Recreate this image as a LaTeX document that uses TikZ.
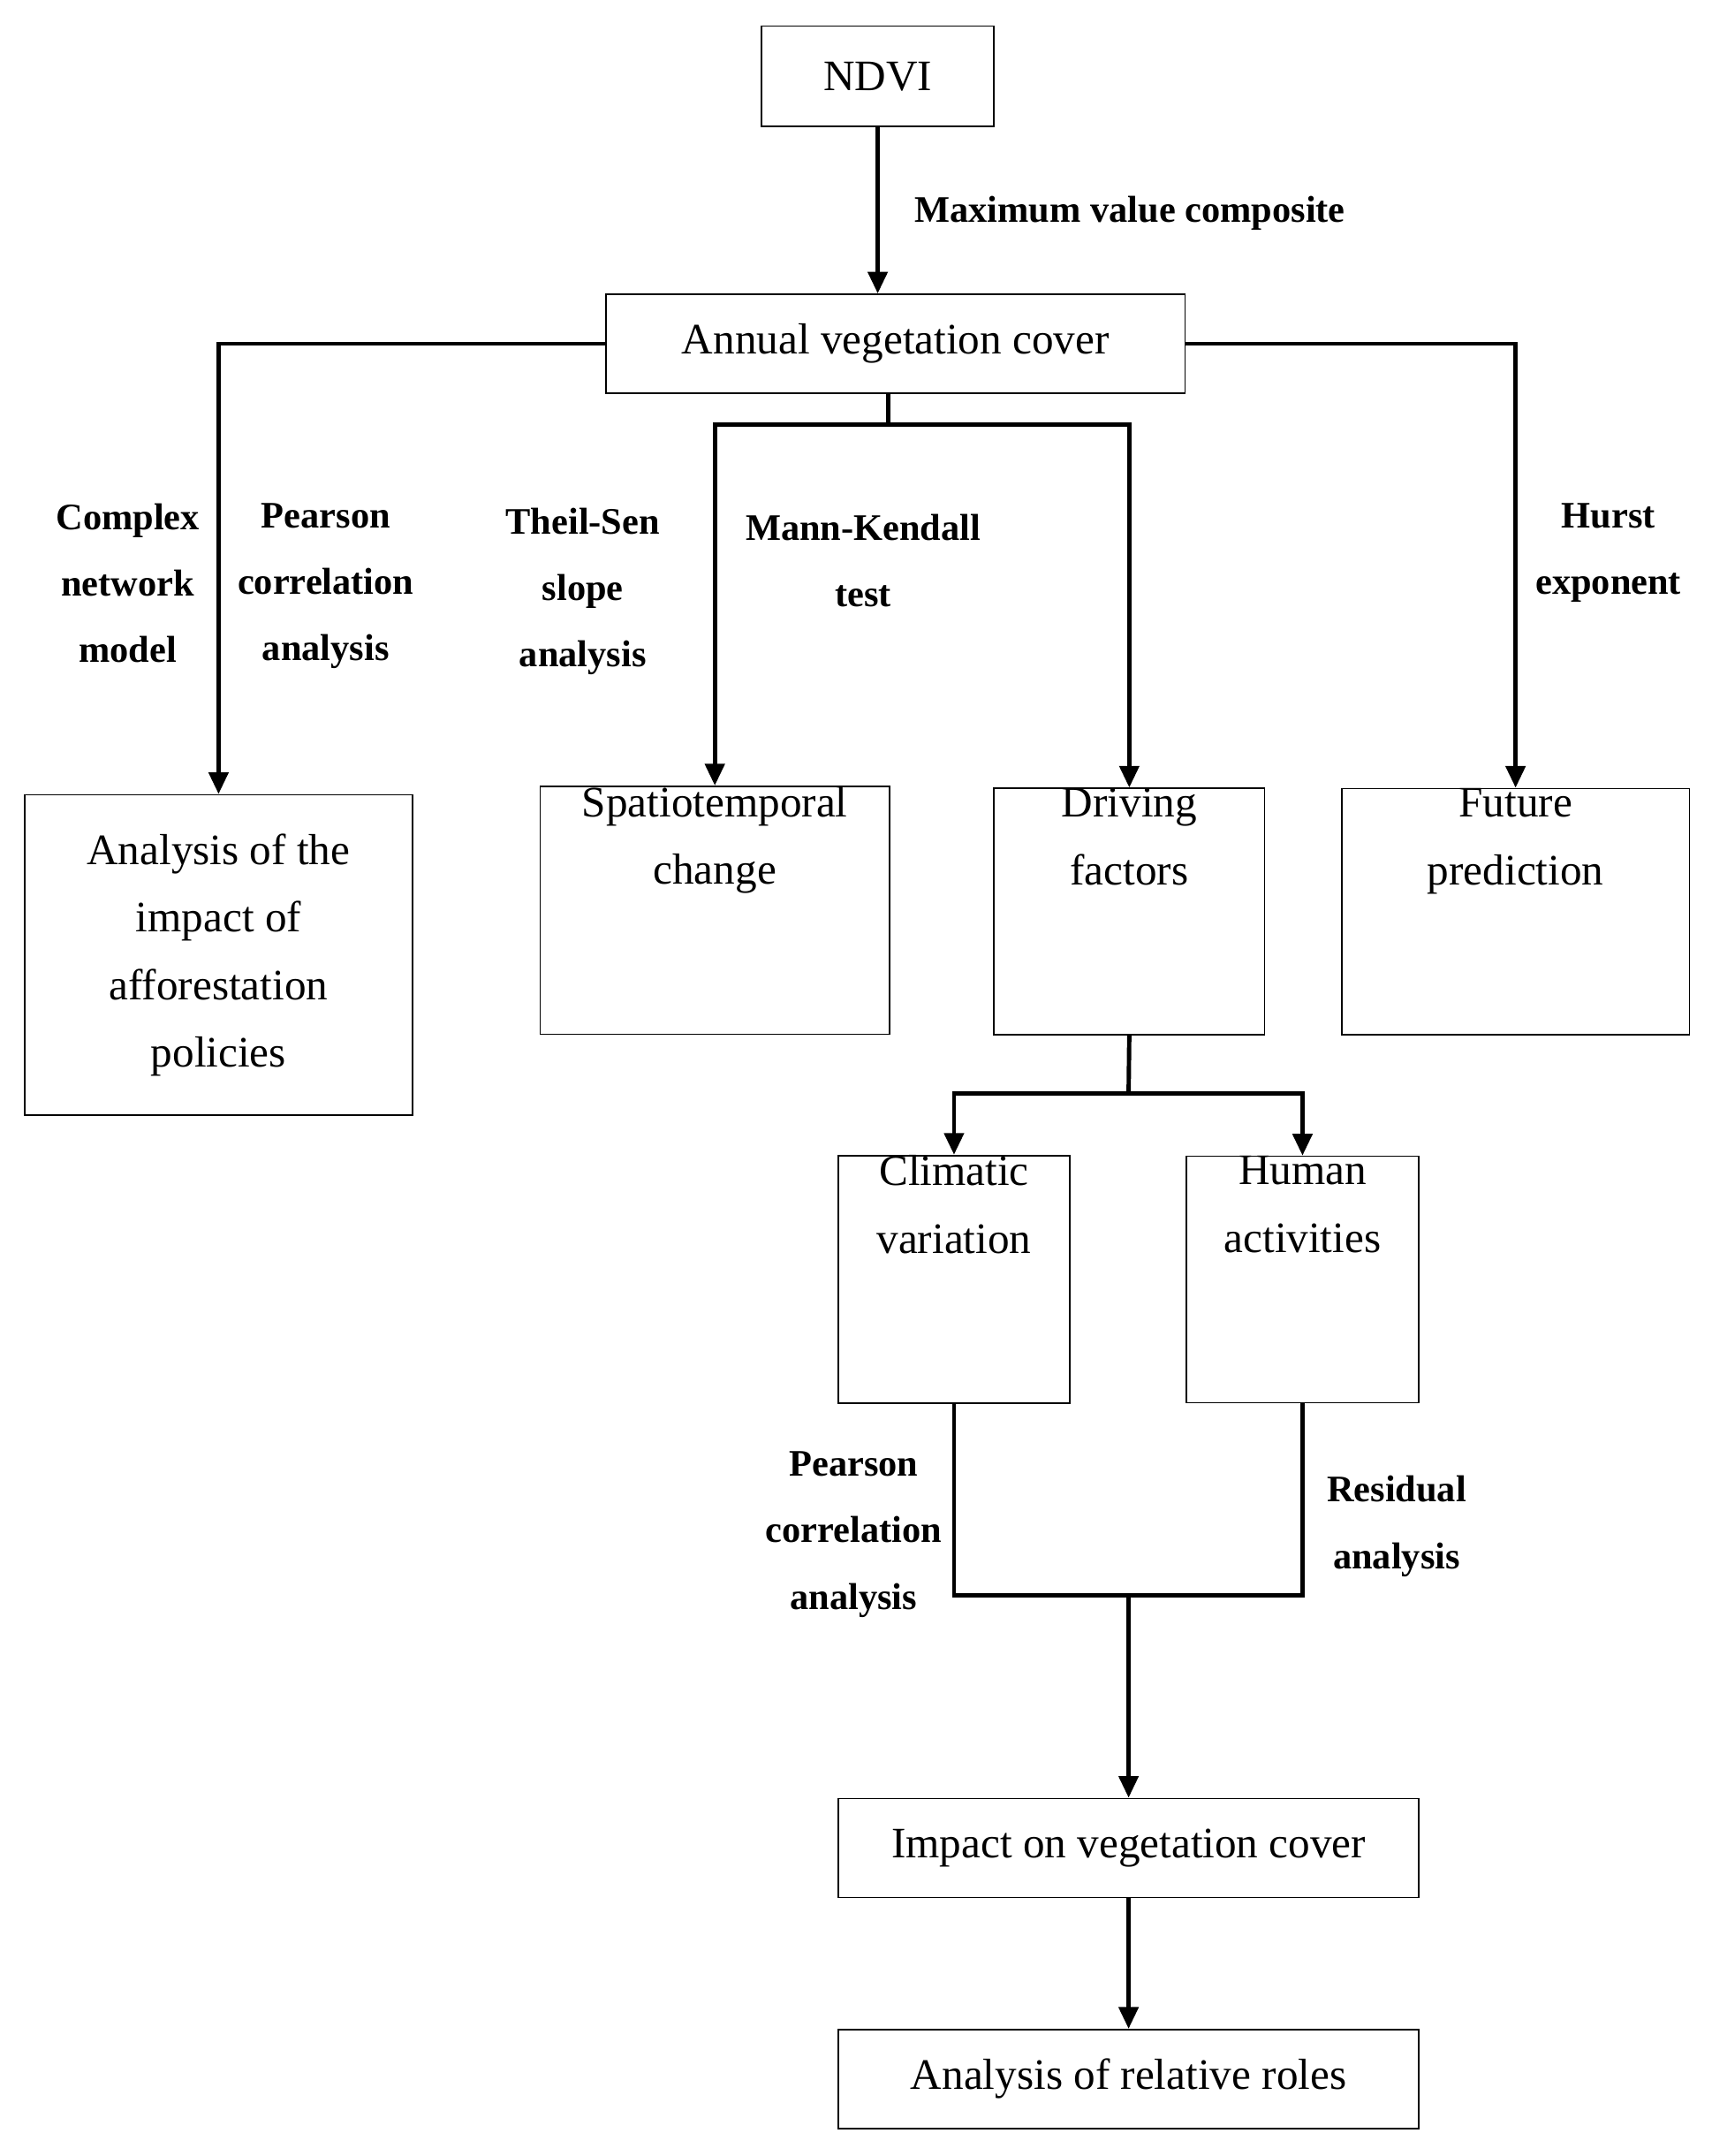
\documentclass[tikz,border=0pt]{standalone}
\usepackage{fontspec}
\setmainfont{Liberation Serif}
\usetikzlibrary{arrows.meta}
\tikzset{
  box/.style={draw, line width=0.6pt, align=center, inner sep=0pt,
    font=\fontsize{18}{28}\selectfont},
  flow/.style={line width=1.8pt},
  arr/.style={flow, -{Triangle[length=9pt,width=8pt]}},
  lbl/.style={align=center, font=\fontsize{15.5}{27.5}\selectfont\bfseries}
}
\begin{document}
\begin{tikzpicture}[x=0.02cm,y=-0.02cm]
\useasboundingbox (0,0) rectangle (1245,1568);
% boxes
\node[box, minimum width=169*0.02cm, minimum height=73*0.02cm] (ndvi) at (638.5,55.5) {NDVI};
\node[box, minimum width=421*0.02cm, minimum height=72*0.02cm] (annual) at (651.5,250) {Annual vegetation cover};
\node[box, minimum width=282*0.02cm, minimum height=233*0.02cm] (afforest) at (159,694.5) {Analysis of the\\impact of\\afforestation\\policies};
\node[box, minimum width=254*0.02cm, minimum height=168*0.02cm] (spatio) at (520,662) {Spatiotemporal\\change\\[1.2cm]};
\node[box, minimum width=197*0.02cm, minimum height=168*0.02cm] (driving) at (821.5,663) {Driving\\factors\\[1.2cm]};
\node[box, minimum width=253*0.02cm, minimum height=168*0.02cm] (future) at (1102.5,663) {Future\\prediction\\[1.2cm]};
\node[box, minimum width=168*0.02cm, minimum height=171*0.02cm] (climatic) at (694,930.5) {Climatic\\variation\\[1.2cm]};
\node[box, minimum width=169*0.02cm, minimum height=171*0.02cm] (human) at (947.5,930.5) {Human\\activities\\[1.2cm]};
\node[box, minimum width=422*0.02cm, minimum height=72*0.02cm] (impact) at (821,1344) {Impact on vegetation cover};
\node[box, minimum width=422*0.02cm, minimum height=72*0.02cm] (roles) at (821,1512) {Analysis of relative roles};
% helper points
\coordinate (split) at (646,309);
\coordinate (dsplit) at (821,795);
\coordinate (merge) at (821,1160);
% connectors
\draw[arr] (ndvi) -- (ndvi|-annual.north);
\draw[arr] (annual.west) -| (afforest.north);
\draw[arr] (annual.east) -| (future.north);
\draw[flow] (annual.south-|split) -- (split);
\draw[arr] (split) -| (spatio.north);
\draw[arr] (split) -| (driving.north);
\draw[flow] (driving.south) -- (dsplit);
\draw[arr] (dsplit) -| (climatic.north);
\draw[arr] (dsplit) -| (human.north);
\draw[flow] (climatic.south) |- (merge);
\draw[flow] (human.south) |- (merge);
\draw[arr] (merge) -- (impact.north);
\draw[arr] (impact) -- (roles);
% labels
\node[lbl] (mvc) at (822,155) {Maximum value composite};
\node[lbl] (cnm) at (93,424) {Complex\\network\\model};
\node[lbl] (pca1) at (237,426) {Pearson\\correlation\\analysis};
\node[lbl] (ts) at (424,430) {Theil-Sen\\slope\\analysis};
\node[lbl] (mk) at (628,408) {Mann-Kendall\\test};
\node[lbl] (hurst) at (1170,402) {Hurst\\exponent};
\node[lbl] (pca2) at (621,1116) {Pearson\\correlation\\analysis};
\node[lbl] (res) at (1016,1110) {Residual\\analysis};
\end{tikzpicture}
\end{document}
